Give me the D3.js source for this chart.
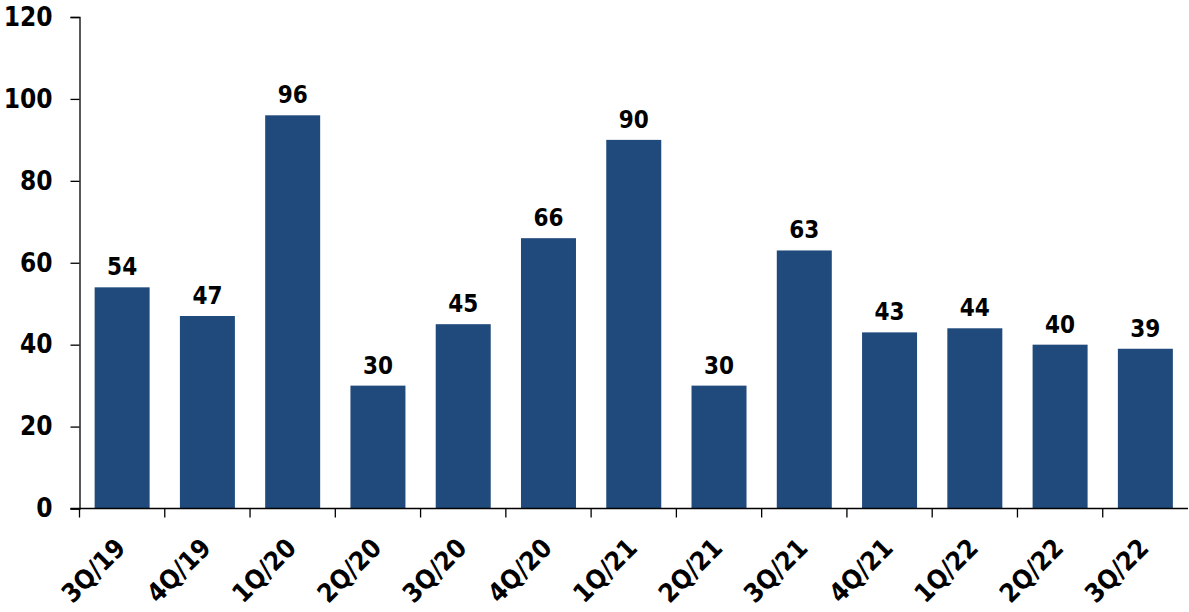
<!DOCTYPE html>
<html><head><meta charset="utf-8">
<script src="https://cdn.jsdelivr.net/npm/d3@7"></script>
<style>
html,body{margin:0;padding:0;background:#fff;}
text{font-family:"DejaVu Sans Condensed","DejaVu Sans",sans-serif;font-weight:bold;fill:#000;}
</style></head>
<body>
<svg id="chart" width="1189" height="612"></svg>
<script>
const categories = ["3Q/19","4Q/19","1Q/20","2Q/20","3Q/20","4Q/20","1Q/21","2Q/21","3Q/21","4Q/21","1Q/22","2Q/22","3Q/22"];
const values = [54,47,96,30,45,66,90,30,63,43,44,40,39];
const yTicks = [0,20,40,60,80,100,120];

const svg = d3.select("#chart");
const x0 = 79.5, x1 = 1188, yTop = 17, yBottom = 508.5;

const x = d3.scaleBand().domain(categories).range([x0, x1]).paddingInner(0.355).paddingOuter(0.1775);
const y = d3.scaleLinear().domain([0,120]).range([yBottom, yTop]);

// bars
svg.append("g").selectAll("rect").data(values).join("rect")
  .attr("x", (d,i)=>x(categories[i]))
  .attr("y", d=>y(d))
  .attr("width", x.bandwidth())
  .attr("height", d=>y(0)-y(d))
  .attr("fill", "#214a7c");

// data labels
svg.append("g").selectAll("text").data(values).join("text")
  .attr("x", (d,i)=>x(categories[i]) + x.bandwidth()/2)
  .attr("y", d=>y(d) - 12)
  .attr("text-anchor","middle")
  .attr("font-size", 24)
  .text(d=>d);

// y axis
const yAxis = d3.axisLeft(y).tickValues(yTicks).tickSize(9).tickPadding(18).tickFormat(d3.format("d"));
const gy = svg.append("g").attr("transform", `translate(${x0},0)`).call(yAxis);
gy.select(".domain").attr("stroke","#000").attr("stroke-width",1.3);
gy.selectAll(".tick line").attr("stroke","#000").attr("stroke-width",1.3);
gy.selectAll(".tick text").attr("font-size",26).attr("font-family",null).attr("fill","#000");

// x axis
const xb = d3.scaleLinear().domain([0, categories.length]).range([x0, x1]);
const gx = svg.append("g").attr("transform", `translate(0,${yBottom})`);
gx.append("line").attr("x1", x0-9).attr("x2", x1).attr("y1",0).attr("y2",0).attr("stroke","#000").attr("stroke-width",1.3);
gx.selectAll("line.tk").data(d3.range(categories.length)).join("line").attr("class","tk")
  .attr("x1", d=>xb(d)).attr("x2", d=>xb(d)).attr("y1",0).attr("y2",9)
  .attr("stroke","#000").attr("stroke-width",1.3);
gx.selectAll("text").data(categories).join("text")
  .attr("transform", d=>`translate(${x(d)+x.bandwidth()/2+5},${41}) rotate(-45)`)
  .attr("text-anchor","end")
  .attr("font-size",26)
  .text(d=>d);
</script>
</body></html>
